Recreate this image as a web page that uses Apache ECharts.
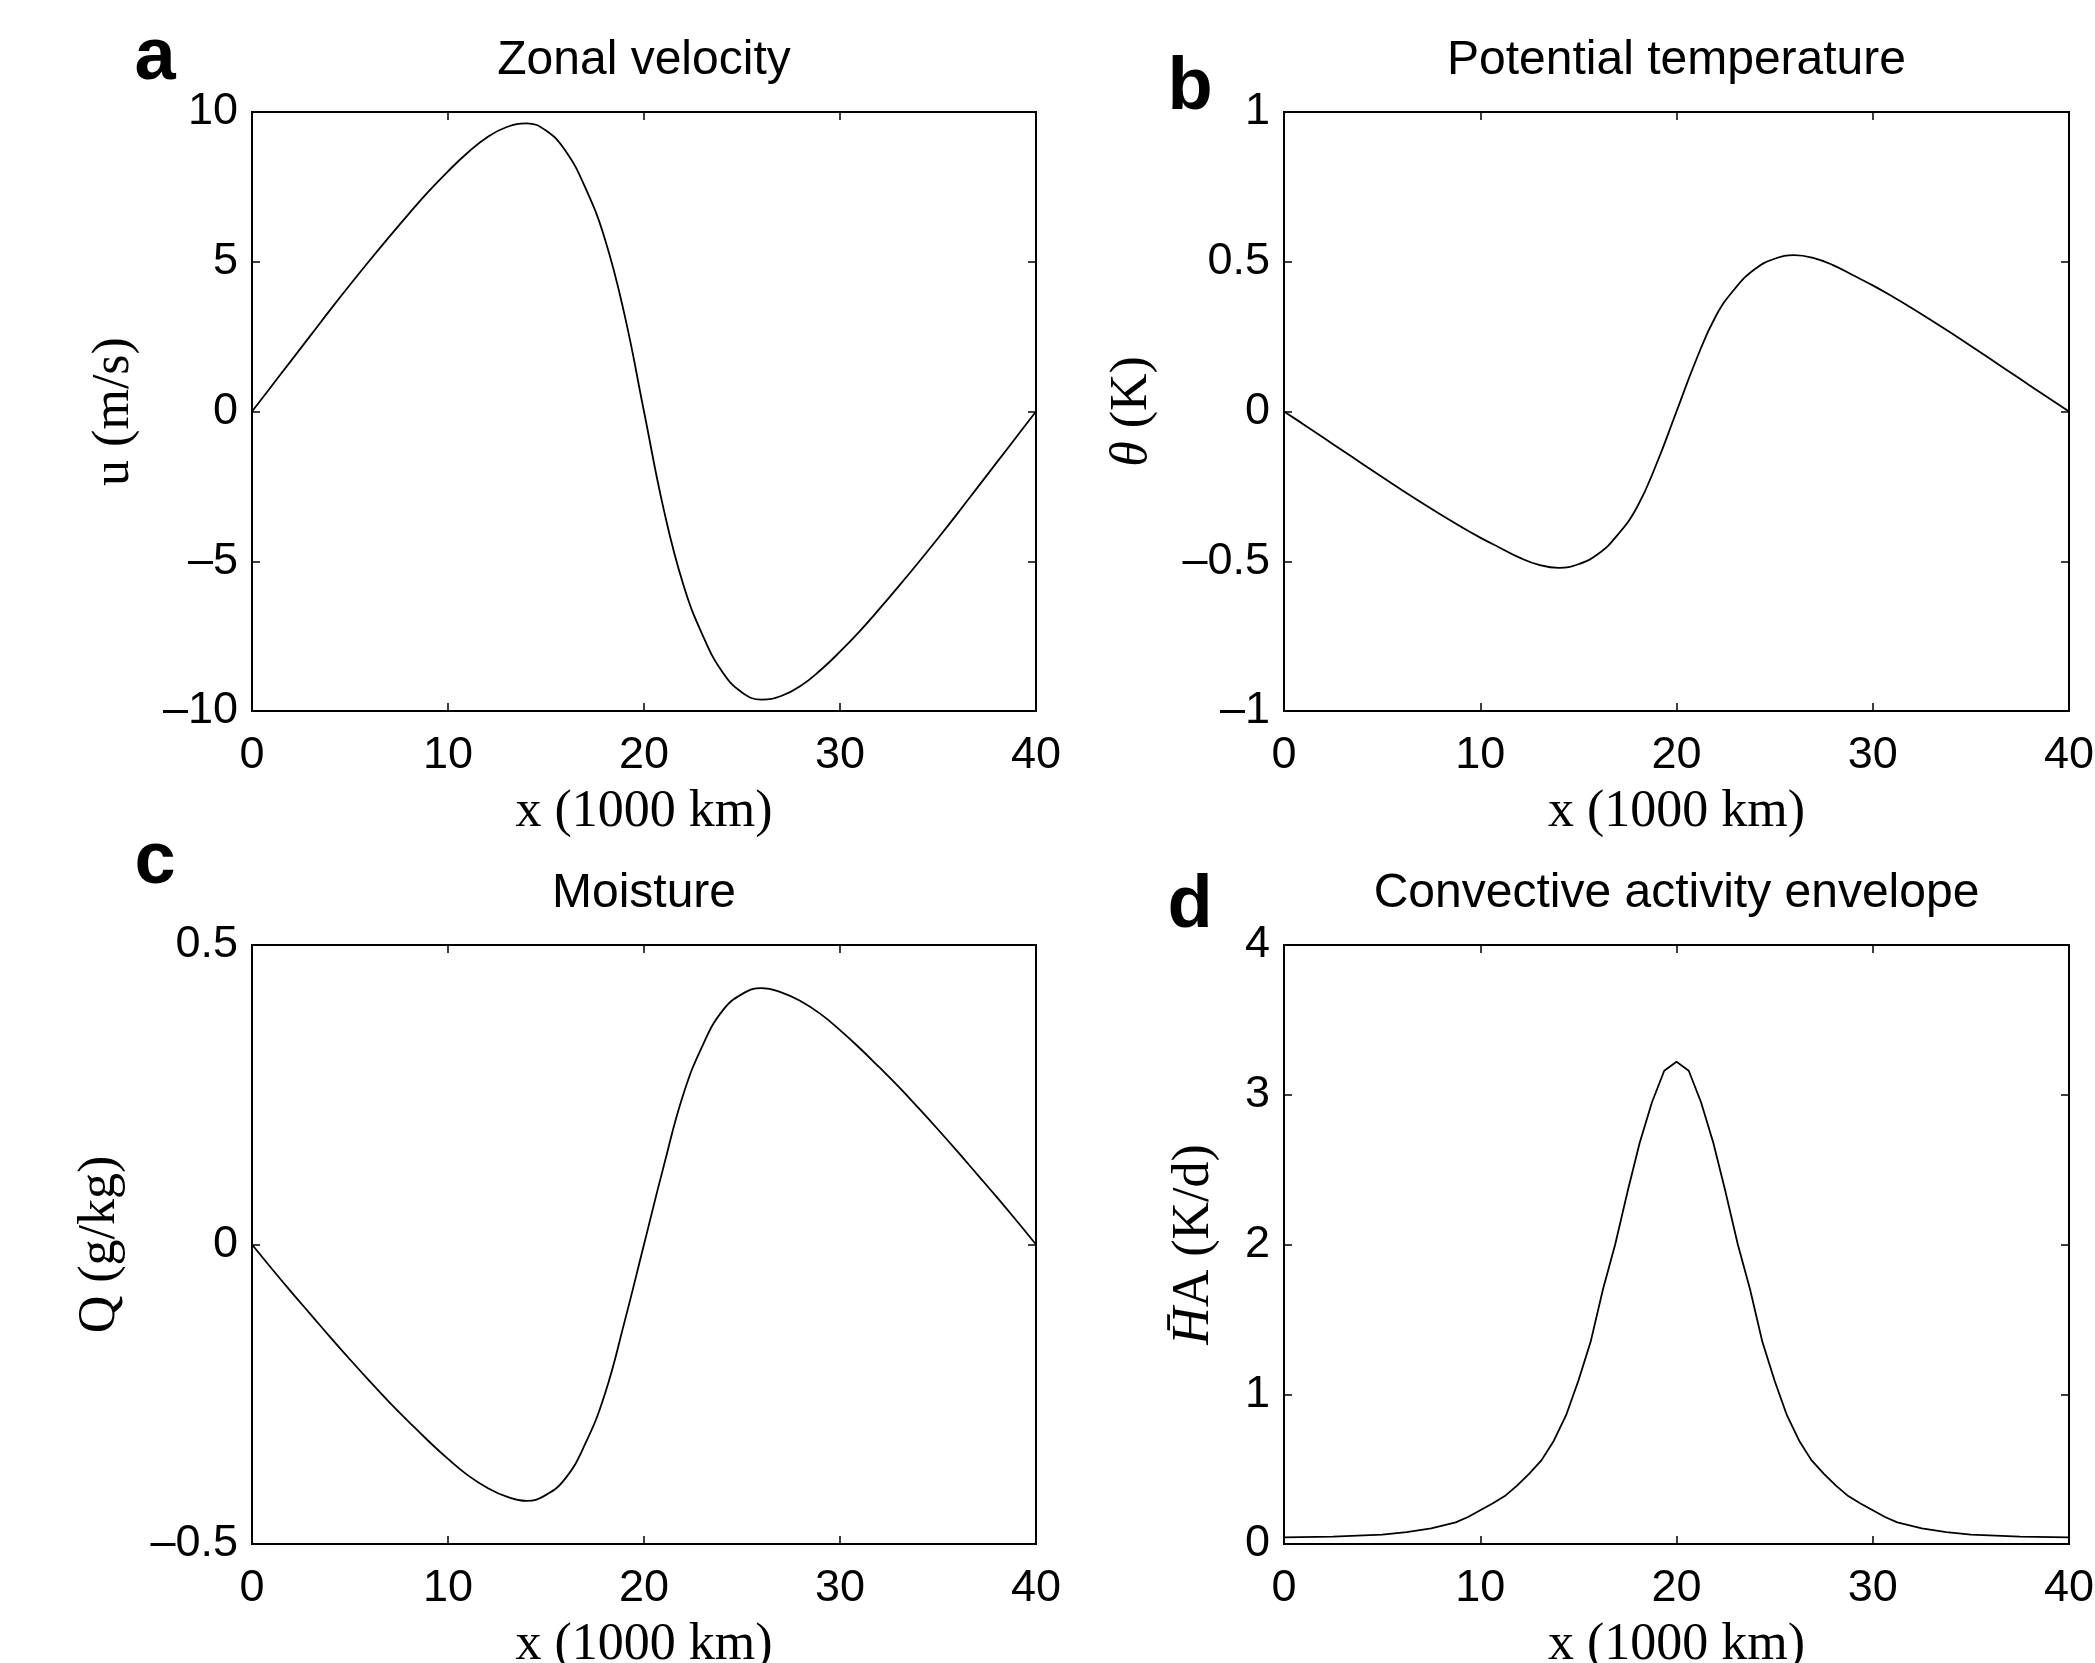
<!DOCTYPE html>
<html>
<head>
<meta charset="utf-8">
<script src="https://cdn.jsdelivr.net/npm/echarts@6/dist/echarts.min.js"></script>
<style>
  html, body { margin: 0; padding: 0; background: #fff; }
  #chart { width: 2095px; height: 1663px; }
</style>
</head>
<body>
<div id="chart"></div>
<script>
// x positions (1000 km)
const xKm = [0, 1, 2, 3, 4, 5, 6, 7, 8, 9, 10, 11, 12, 13, 14, 15, 16, 17, 18, 19, 20,
  21, 22, 23, 24, 25, 26, 27, 28, 29, 30, 31, 32, 33, 34, 35, 36, 37, 38, 39, 40]

// a: zonal velocity u (m/s)
const uWind = [0, 0.85, 1.70, 2.55, 3.40, 4.23, 5.04, 5.83, 6.60, 7.34, 8.02, 8.64, 9.16, 9.50, 9.62, 9.38, 8.70, 7.48, 5.77, 3.25, 0,
  -3.25, -5.77, -7.48, -8.70, -9.38, -9.62, -9.50, -9.16, -8.64, -8.02, -7.34, -6.60, -5.83, -5.04, -4.23, -3.40, -2.55, -1.70, -0.85, 0]

// b: potential temperature (K)
const theta = [0, -0.043, -0.087, -0.131, -0.175, -0.219, -0.262, -0.304, -0.345, -0.384, -0.421, -0.455, -0.488, -0.512, -0.522, -0.510, -0.476, -0.412, -0.318, -0.172, 0,
  0.172, 0.318, 0.412, 0.476, 0.510, 0.522, 0.512, 0.488, 0.455, 0.421, 0.384, 0.345, 0.304, 0.262, 0.219, 0.175, 0.131, 0.087, 0.043, 0]

// c: moisture (g/kg)
const moisture = [0, -0.040, -0.079, -0.117, -0.155, -0.192, -0.228, -0.263, -0.296, -0.328, -0.358, -0.385, -0.406, -0.421, -0.428, -0.418, -0.390, -0.333, -0.250, -0.130, 0,
  0.130, 0.250, 0.333, 0.390, 0.418, 0.428, 0.421, 0.406, 0.385, 0.358, 0.328, 0.296, 0.263, 0.228, 0.192, 0.155, 0.117, 0.079, 0.040, 0]

// d: convective activity envelope (K/d), finer sampling near the peak
const xEnv = [0, 2.5, 5, 6.25, 7.5, 8.75, 9.375, 10, 10.625, 11.25, 11.875, 12.5, 13.125, 13.75, 14.375, 15, 15.625, 16.25, 16.875,
  17.5, 18.125, 18.75, 19.375, 20, 20.625, 21.25, 21.875, 22.5, 23.125, 23.75, 24.375, 25, 25.625, 26.25, 26.875, 27.5,
  28.125, 28.75, 29.375, 30, 30.625, 31.25, 32.5, 33.75, 35, 37.5, 40]
const heating = [0.044, 0.049, 0.062, 0.080, 0.105, 0.144, 0.180, 0.225, 0.270, 0.320, 0.390, 0.470, 0.560, 0.690, 0.860, 1.090, 1.350, 1.700, 2.000,
  2.350, 2.680, 2.950, 3.160, 3.220, 3.160, 2.950, 2.680, 2.350, 2.000, 1.700, 1.350, 1.090, 0.860, 0.690, 0.560, 0.470,
  0.390, 0.320, 0.270, 0.225, 0.180, 0.144, 0.105, 0.080, 0.062, 0.049, 0.044]

const xTicks = { min: 0, max: 40, interval: 10 }

const panels = [
  { letter: 'a', title: 'Zonal velocity', yName: 'u (m/s)', x: xKm, y: uWind, yMin: -10, yMax: 10, yStep: 5, smooth: 0.45,
    grid: { left: 252, top: 112, width: 784, height: 599 }, nameGap: 112, letterPos: [155, 59] },
  { letter: 'b', title: 'Potential temperature', yName: '{it|θ} (K)', x: xKm, y: theta, yMin: -1, yMax: 1, yStep: 0.5, smooth: 0.45,
    grid: { left: 1284, top: 112, width: 785, height: 599 }, nameGap: 126, letterPos: [1190, 89] },
  { letter: 'c', title: 'Moisture', yName: 'Q (g/kg)', x: xKm, y: moisture, yMin: -0.5, yMax: 0.5, yStep: 0.5, smooth: 0.45,
    grid: { left: 252, top: 945, width: 784, height: 599 }, nameGap: 126, letterPos: [155, 863] },
  { letter: 'd', title: 'Convective activity envelope', yName: '{it|H\u0304}A (K/d)', x: xEnv, y: heating, yMin: 0, yMax: 4, yStep: 1, smooth: false,
    grid: { left: 1284, top: 945, width: 785, height: 599 }, nameGap: 64, letterPos: [1190, 907] },
]

const sans = 'Liberation Sans, Arial, Helvetica, sans-serif'
const serif = 'Liberation Serif, Times New Roman, serif'
const fmt = v => String(v).replace('-', '\u2013')

const tickStyle = { inside: true, length: 8, lineStyle: { color: '#000', width: 1.5 } }
const noLine = { show: false, onZero: false }

const option = {
  backgroundColor: '#fff',
  animation: false,
  title: [],
  grid: [],
  xAxis: [],
  yAxis: [],
  series: [],
  graphic: [],
}

panels.forEach((p, i) => {
  option.grid.push(Object.assign({
    show: true, borderColor: '#000', borderWidth: 2, backgroundColor: '#fff',
    containLabel: false, outerBoundsMode: 'none',
  }, p.grid))
  option.title.push({
    text: p.title,
    left: p.grid.left + p.grid.width / 2,
    top: p.grid.top - 75,
    textAlign: 'center',
    padding: 0,
    textStyle: { fontFamily: sans, fontSize: 48, fontWeight: 'normal', color: '#000' },
  })
  // bottom x axis with labels and name
  option.xAxis.push(Object.assign({
    type: 'value', gridIndex: i, position: 'bottom',
    name: 'x (1000 km)', nameLocation: 'middle', nameGap: 75,
    nameTextStyle: { fontFamily: serif, fontSize: 52, color: '#000' },
    axisLine: noLine, axisTick: tickStyle, splitLine: { show: false },
    axisLabel: { margin: 22, fontFamily: sans, fontSize: 45, color: '#000', formatter: fmt },
  }, xTicks))
  // top x axis, ticks only
  option.xAxis.push(Object.assign({
    type: 'value', gridIndex: i, position: 'top',
    axisLine: noLine, axisTick: tickStyle, splitLine: { show: false }, axisLabel: { show: false },
  }, xTicks))
  const yRange = { min: p.yMin, max: p.yMax, interval: p.yStep }
  option.yAxis.push(Object.assign({
    type: 'value', gridIndex: i, position: 'left',
    name: p.yName, nameLocation: 'middle', nameGap: p.nameGap,
    nameTextStyle: { fontFamily: serif, fontSize: 52, color: '#000',
      rich: { it: { fontFamily: serif, fontSize: 52, fontStyle: 'italic', color: '#000' } } },
    axisLine: noLine, axisTick: tickStyle, splitLine: { show: false },
    axisLabel: { margin: 14, fontFamily: sans, fontSize: 45, color: '#000', formatter: fmt },
  }, yRange))
  option.yAxis.push(Object.assign({
    type: 'value', gridIndex: i, position: 'right',
    axisLine: noLine, axisTick: tickStyle, splitLine: { show: false }, axisLabel: { show: false },
  }, yRange))
  option.series.push({
    type: 'line',
    xAxisIndex: i * 2,
    yAxisIndex: i * 2,
    data: p.x.map((x, k) => [x, p.y[k]]),
    showSymbol: false,
    smooth: p.smooth,
    lineStyle: { color: '#000', width: 1.8 },
  })
  option.graphic.push({
    type: 'text',
    x: p.letterPos[0],
    y: p.letterPos[1],
    style: { text: p.letter, font: 'bold 74px ' + sans, fill: '#000', align: 'center', verticalAlign: 'middle' },
  })
})

const chart = echarts.init(document.getElementById('chart'))
chart.setOption(option)
</script>
</body>
</html>
